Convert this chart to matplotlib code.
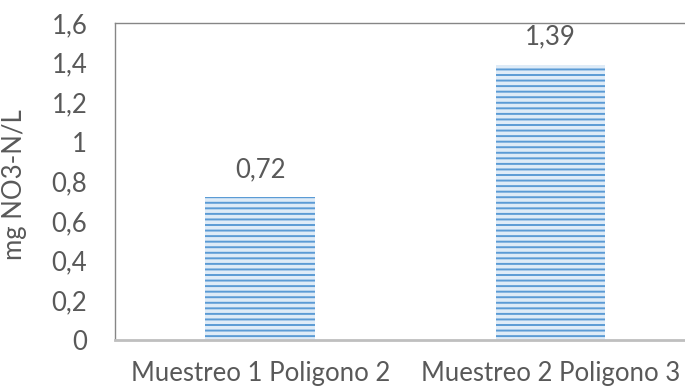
import matplotlib.pyplot as plt

# Datos
categorias = ["Muestreo 1 Poligono 2", "Muestreo 2 Poligono 3"]
valores = [0.72, 1.39]
etiquetas = ["0,72", "1,39"]
yticks = [0, 0.2, 0.4, 0.6, 0.8, 1.0, 1.2, 1.4, 1.6]
ytick_labels = ["0", "0,2", "0,4", "0,6", "0,8", "1", "1,2", "1,4", "1,6"]

plt.rcParams['font.family'] = ['Lato', 'DejaVu Sans']
plt.rcParams['hatch.linewidth'] = 1.4
gris = '#595959'
tam = 18.5

fig = plt.figure(figsize=(6.85, 3.89), dpi=100)
ax = fig.add_axes([0.168, 0.126, 0.8475, 0.815])

x = range(len(categorias))
barras = ax.bar(x, valores, width=0.378, color='#DEEBF7',
                edgecolor='#5B9BD5', linewidth=0, hatch='---')

for b, txt in zip(barras, etiquetas):
    ax.annotate(txt, (b.get_x() + b.get_width() / 2, b.get_height()),
                xytext=(0, 11), textcoords='offset points',
                ha='center', va='bottom', fontsize=tam, color=gris)

ax.set_xlim(-0.5, 1.5)
ax.set_ylim(0, 1.6)
ax.set_yticks(yticks)
ax.set_yticklabels(ytick_labels)
ax.set_xticks(list(x))
ax.set_xticklabels(categorias)
ax.tick_params(axis='both', length=0, labelsize=tam, labelcolor=gris)
ax.tick_params(axis='y', pad=20)
ax.tick_params(axis='x', pad=15)

ax.set_ylabel("mg NO3-N/L", fontsize=tam, color=gris)
ax.yaxis.set_label_coords(-0.152, 0.49)

ax.spines['right'].set_visible(False)
for s in ['left', 'top']:
    ax.spines[s].set_color('#868686')
    ax.spines[s].set_linewidth(1.0)
ax.spines['bottom'].set_color('#BFBFBF')
ax.spines['bottom'].set_linewidth(2.0)

fig.savefig('out.png', dpi=100)
